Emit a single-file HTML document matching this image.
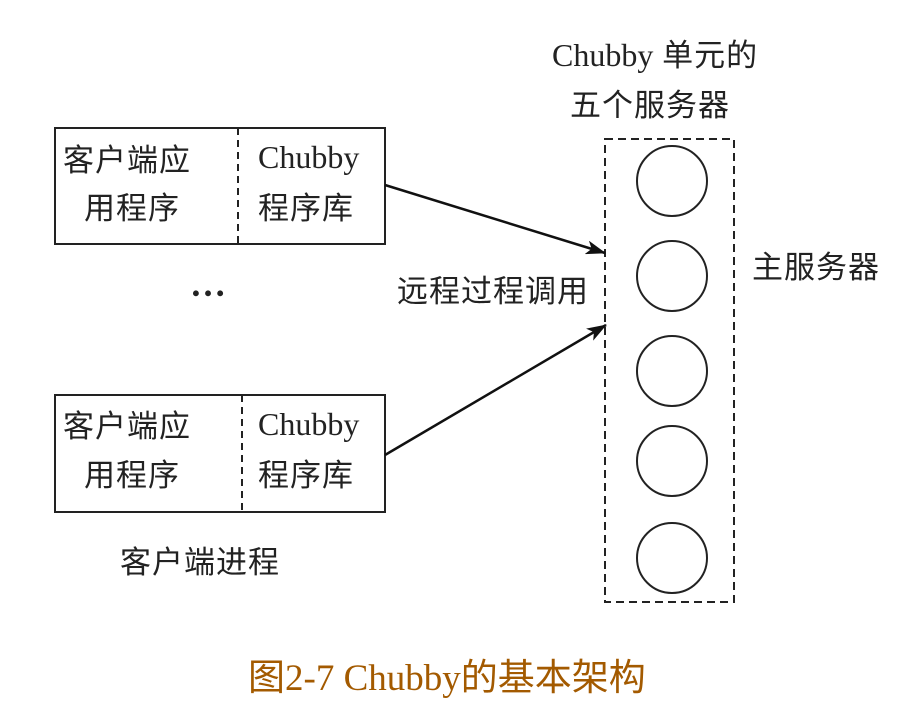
<!DOCTYPE html>
<html><head><meta charset="utf-8"><style>
body{margin:0;background:#fff;}
svg{display:block;}
text{font-family:"Liberation Serif","Noto Sans CJK SC",serif;fill:#222;font-size:31px;letter-spacing:1px;}
.l{font-size:32px;letter-spacing:0;}
.t{fill:#a35a00;font-size:37px;letter-spacing:0;}
</style></head><body>
<svg width="906" height="712" viewBox="0 0 906 712" xmlns="http://www.w3.org/2000/svg">
<defs><marker id="a" markerWidth="20" markerHeight="14" refX="19" refY="7" orient="auto" markerUnits="userSpaceOnUse"><path d="M0,0 L20,7 L0,14 L5,7 Z" fill="#111"/></marker></defs>
<g stroke="#222" stroke-width="2" fill="none">
<rect x="55" y="128" width="330" height="116"/>
<rect x="55" y="395" width="330" height="117"/>
<line x1="238" y1="128" x2="238" y2="244" stroke-dasharray="7,5"/>
<line x1="242" y1="395" x2="242" y2="512" stroke-dasharray="7,5"/>
<rect x="605" y="139" width="129" height="463" stroke-dasharray="8,5"/>
<circle cx="672" cy="181" r="35"/>
<circle cx="672" cy="276" r="35"/>
<circle cx="672" cy="371" r="35"/>
<circle cx="672" cy="461" r="35"/>
<circle cx="672" cy="558" r="35"/>
<line x1="385" y1="185" x2="605" y2="253" stroke="#111" stroke-width="2.5" marker-end="url(#a)"/>
<line x1="385" y1="455" x2="606" y2="325" stroke="#111" stroke-width="2.5" marker-end="url(#a)"/>
</g>
<text x="63" y="171">客户端应</text>
<text x="84" y="219">用程序</text>
<text class="l" x="258" y="168">Chubby</text>
<text x="258" y="219">程序库</text>
<text x="63" y="437">客户端应</text>
<text x="84" y="486">用程序</text>
<text class="l" x="258" y="435">Chubby</text>
<text x="258" y="486">程序库</text>
<text x="190" y="296" style="font-size:36px;font-weight:bold">…</text>
<text x="552" y="66"><tspan class="l">Chubby</tspan> 单元的</text>
<text x="570" y="116">五个服务器</text>
<text x="752" y="278">主服务器</text>
<text x="397" y="302">远程过程调用</text>
<text x="120" y="573">客户端进程</text>
<text class="t" x="248" y="690">图2-7 Chubby的基本架构</text>
</svg>
</body></html>
